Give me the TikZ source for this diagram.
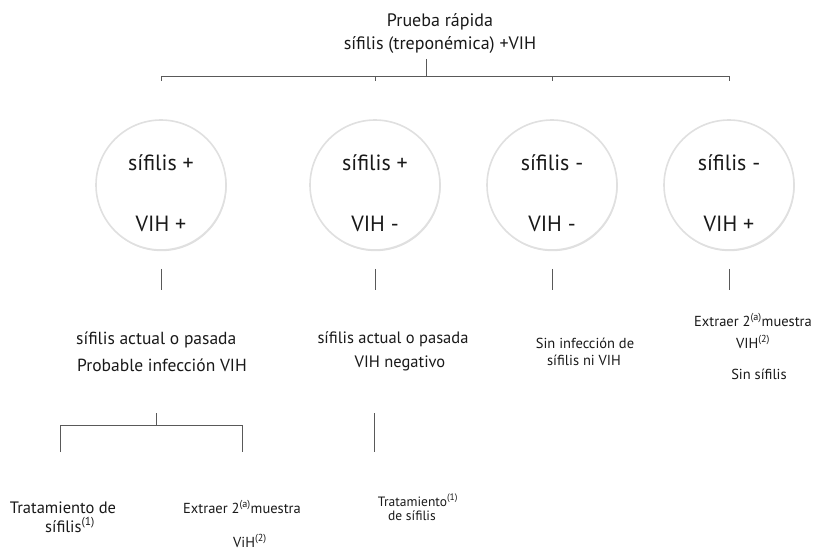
\documentclass[tikz,border=0pt]{standalone}
\usepackage{fontspec}
\setmainfont{PT Sans}
\usepackage{tikz}
\usetikzlibrary{positioning,shadows}

\begin{document}
\begin{tikzpicture}[x=1pt, y=-1pt,
    every node/.style={text=black!90, inner sep=0pt, anchor=base},
    ring/.style={circle, anchor=center, draw=black!12, line width=1.6pt, fill=white, minimum size=130pt,
        drop shadow={opacity=0.25, shadow xshift=0.6pt, shadow yshift=-1.2pt}},
    wire/.style={draw=black!65, line width=0.8pt},
    head/.style={font=\fontsize{18}{22}\selectfont},
    big/.style={font=\fontsize{22}{26}\selectfont},
    mid/.style={font=\fontsize{17.5}{20}\selectfont},
    small/.style={font=\fontsize{14.5}{17}\selectfont},
    tiny/.style={font=\fontsize{13.5}{16}\selectfont}]

\useasboundingbox (0,0) rectangle (813,551);

% Title
\node[head] (t1) at (440,27) {Prueba rápida};
\node[head] (t2) at (440,50) {sífilis (treponémica) +VIH};

% Top bracket
\coordinate (ts) at (426,59);
\coordinate (tb) at (426,76);
\draw[wire] (ts) -- (tb);
\foreach \i/\x in {1/161,2/375,3/552,4/729}
    \coordinate (k\i) at (\x,76);
\draw[wire] (k1) -- (k4);
\foreach \i in {1,...,4}
    \draw[wire] (k\i) -- ([yshift=-5pt]k\i);

% Result circles
\foreach \i/\x/\s/\v in {1/161/+/+, 2/375/+/-, 3/552/-/-, 4/729/-/+} {
    \node[ring] (c\i) at (\x,185) {};
    \node[big] (s\i) at (\x,170) {sífilis \s};
    \node[big] (v\i) at (\x,231) {VIH \v};
    \draw[wire] ([yshift=-18pt]c\i.south) -- ([yshift=-39pt]c\i.south);
}

% Branch 1
\node[mid, anchor=base west] (a1) at (76,344) {sífilis actual o pasada};
\node[mid, anchor=base west] (a2) at (77,371) {Probable infección VIH};

% Branch 2
\node[mid, font=\fontsize{16.5}{19}\selectfont] (b1) at (393,343) {sífilis actual o pasada};
\node[mid, font=\fontsize{16.5}{19}\selectfont] (b2) at (400,367) {VIH negativo};

% Branch 3
\node[small] (d1) at (585,348) {Sin infección de};
\node[small] (d2) at (584,365) {sífilis ni VIH};

% Branch 4
\node[small] (e1) at (753,326) {Extraer 2\textsuperscript{(a)}muestra};
\node[small] (e2) at (753,348) {VIH\textsuperscript{(2)}};
\node[small] (e3) at (759,379) {Sin sífilis};

% Sub bracket under branch 1
\coordinate (m0) at (156,413);
\coordinate (m1) at (156,425);
\coordinate (l1) at (60,425);
\coordinate (l2) at (242,425);
\coordinate (f1) at (60,452);
\coordinate (f2) at (242,452);
\draw[wire] (m0) -- (m1);
\draw[wire] (f1) -- (l1) -- (l2) -- (f2);

% Stem under branch 2
\coordinate (n0) at (374,413);
\coordinate (n1) at (374,452);
\draw[wire] (n0) -- (n1);

% Bottom texts
\node[mid, font=\fontsize{16.5}{19}\selectfont] (g1) at (63,513) {Tratamiento de};
\node[mid, font=\fontsize{16.5}{19}\selectfont] (g2) at (70,532) {sífilis\textsuperscript{(1)}};
\node[mid, font=\fontsize{14.5}{17}\selectfont] (h1) at (242,513) {Extraer 2\textsuperscript{(a)}muestra};
\node[mid, font=\fontsize{14.5}{17}\selectfont] (h2) at (250,547) {ViH\textsuperscript{(2)}};
\node[tiny] (p1) at (418,506) {Tratamiento\textsuperscript{(1)}};
\node[tiny] (p2) at (412,520) {de sífilis};

\end{tikzpicture}
\end{document}
